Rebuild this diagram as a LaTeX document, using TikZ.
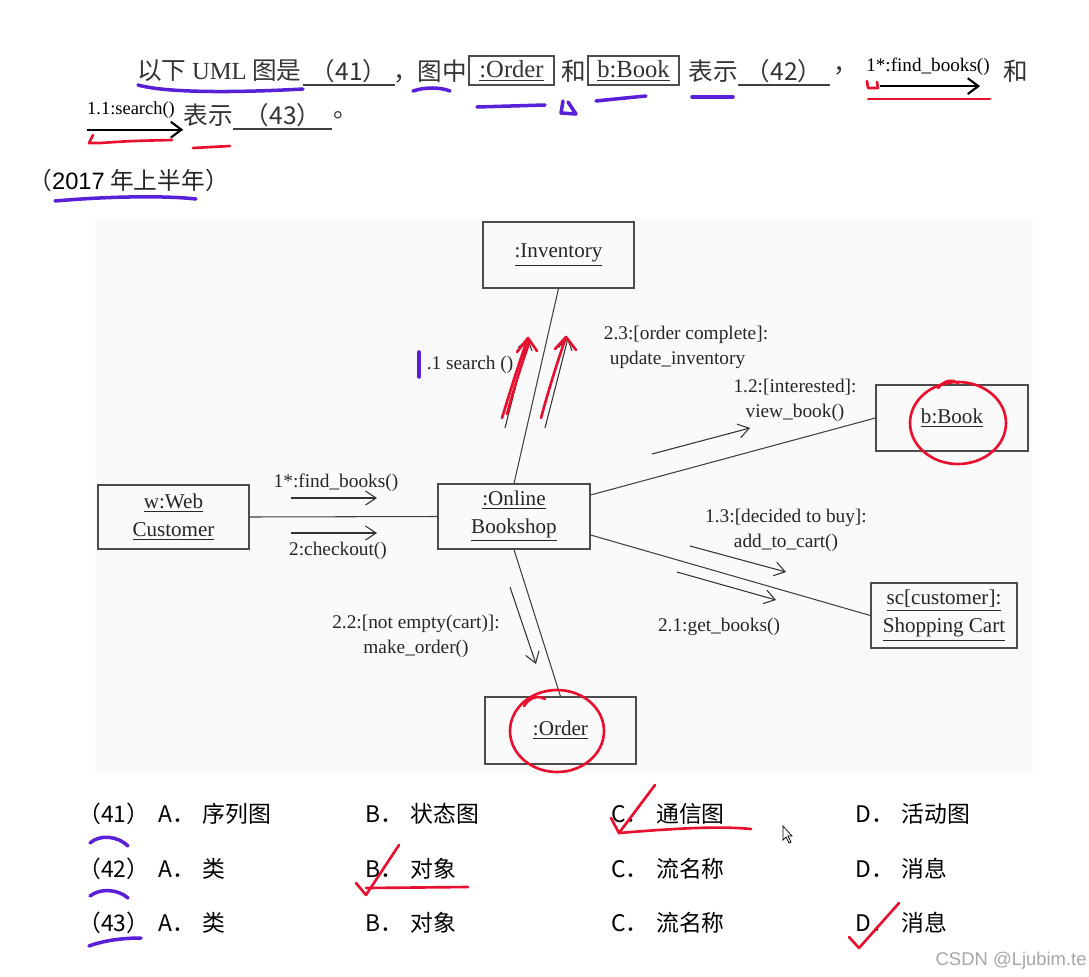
\documentclass[tikz,border=0pt]{standalone}
\usepackage{fontspec}
\setmainfont{Liberation Serif}
\setsansfont{Liberation Sans}
\newfontfamily\cjk{Noto Sans CJK SC}
\usetikzlibrary{arrows.meta}
\definecolor{penpurple}{HTML}{5A20D8}
\definecolor{penred}{HTML}{E8102E}
\tikzset{
  obj/.style={draw=black!70,line width=0.7pt,align=center,inner sep=0pt,text=black!85,font=\fontsize{12}{16}\selectfont},
  msg/.style={align=center,inner sep=0pt,text=black!85,font=\fontsize{11}{14.2}\selectfont},
  link/.style={black!75,line width=0.6pt},
  note/.style={->,>={Straight Barb[length=6pt,width=8pt]},black!80,line width=0.6pt},
  zh/.style={inner sep=0pt,text=black!80,font=\cjk\fontsize{14}{16}\selectfont},
  opt/.style={inner sep=0pt,anchor=west,font=\cjk\fontsize{13}{16}\selectfont},
  pp/.style={penpurple,line width=2pt,line cap=round,line join=round},
  rp/.style={penred,line width=1.5pt,line cap=round,line join=round}
}
\begin{document}
\begin{tikzpicture}[x=0.02cm,y=-0.02cm]
            \useasboundingbox[fill=white] (0,0) rectangle (1089,977);
            \fill[black!2] (95,218) rectangle (1033,773); %图的底色
            % 题干
            \node[zh,anchor=west] (q1) at (137,71) {以下 {\rmfamily UML} 图是};
            \node[zh] (b41) at (349,71) {（41）};
            \draw[black!75,line width=0.8pt] (303,85)--(395,85);
            \node[zh,anchor=west] (q2) at (393,71) {，图中};
            \node[zh,draw=black!70,line width=0.8pt,minimum width=1.7cm,minimum height=0.58cm,font=\fontsize{14}{16}\selectfont] (qord) at (511.5,70.5) {\underline{:Order}};
            \node[zh] (q3) at (574,71) {和};
            \node[zh,draw=black!70,line width=0.8pt,minimum width=1.82cm,minimum height=0.58cm,font=\fontsize{14}{16}\selectfont] (qbook) at (633.5,70.5) {\underline{b:Book}};
            \node[zh] (q4) at (713,71) {表示};
            \node[zh] (b42) at (784,71) {（42）};
            \draw[black!75,line width=0.8pt] (738,85)--(830,85);
            \node[zh,anchor=west] (q5) at (833,71) {，};
            \node[msg,text=black,font=\fontsize{10.9}{12}\selectfont] (qfind) at (928,67) {1*:find\_books()};
            \draw[->,>={Straight Barb[length=6pt,width=9pt]},line width=1.2pt] ([xshift=0.28cm,yshift=-0.2cm]qfind.south west)--([xshift=-0.2cm,yshift=-0.2cm]qfind.south east);
            \node[zh] (q6) at (1016,71) {和};
            \node[msg,text=black,font=\fontsize{10.5}{12}\selectfont] (qsearch) at (131,110) {1.1:search()};
            \draw[->,>={Straight Barb[length=6pt,width=9pt]},line width=1.2pt] ([yshift=-0.22cm]qsearch.south west)--([xshift=0.16cm,yshift=-0.22cm]qsearch.south east);
            \node[zh] (q7) at (208,115) {表示};
            \node[zh] (b43) at (283,115) {（43）};
            \draw[black!75,line width=0.8pt] (233,129)--(332,129);
            \node[zh,anchor=west] (q8) at (333,115) {。};
            \node[zh,anchor=west,text=black!85,font=\cjk\fontsize{13.5}{16}\selectfont] (year) at (28,180) {（{\sffamily\color{black}2017} 年上半年）};
            % 通信图
            \node[obj,minimum width=3.02cm,minimum height=1.32cm] (inv) at (558.5,255) {\underline{:Inventory}};
            \node[obj,minimum width=3.04cm,minimum height=1.32cm] (book) at (952,418) {\underline{b:Book}};
            \node[obj,minimum width=3.02cm,minimum height=1.28cm] (web) at (173.5,517) {\underline{w:Web}\\\underline{Customer}};
            \node[obj,minimum width=3.04cm,minimum height=1.3cm] (shop) at (514,516.5) {\underline{:Online}\\\underline{Bookshop}};
            \node[obj,minimum width=2.92cm,minimum height=1.3cm] (cart) at (944,615.5) {\underline{sc[customer]:}\\\underline{Shopping Cart}};
            \node[obj,minimum width=3.02cm,minimum height=1.34cm] (ord) at (560.5,730.5) {\underline{:Order}};
            \draw[link] (web.east)--(shop.west);
            \draw[link] (shop.north)--(inv.south);
            \draw[link] ([yshift=0.43cm]shop.east)--(book.west);
            \draw[link] ([yshift=-0.37cm]shop.east)--(cart.west);
            \draw[link] (shop.south)--(ord.north);
            % 消息
            \node[msg] (lfind) at (336,483) {1*:find\_books()};
            \node[msg] (lcheck) at (338,551) {2:checkout()};
            \node[msg] (lsearch) at (470,365) {.1 search ()};
            \node[msg,align=left] (lupd) at (686,347) {2.3:[order complete]:\\\hspace{0.12cm}update\_inventory};
            \node[msg] (lview) at (795,400) {1.2:[interested]:\\view\_book()};
            \node[msg] (ladd) at (786,530) {1.3:[decided to buy]:\\add\_to\_cart()};
            \node[msg] (lget) at (719,627) {2.1:get\_books()};
            \node[msg] (lmake) at (416,636) {2.2:[not empty(cart)]:\\make\_order()};
            \coordinate (fa) at (291,498); \coordinate (fb) at (377,498); \draw[note] (fa)--(fb); %1*
            \coordinate (ca) at (291,533); \coordinate (cb) at (377,533); \draw[note] (ca)--(cb); %2
            \coordinate (sa) at (505,428); \coordinate (sb) at (528,338); \draw[note] (sa)--(sb); %1.1
            \coordinate (ua) at (545,428); \coordinate (ub) at (568,338); \draw[note] (ua)--(ub); %2.3
            \coordinate (va) at (652,454); \coordinate (vb) at (750,428); \draw[note] (va)--(vb); %1.2
            \coordinate (aa) at (690,546); \coordinate (ab) at (786,572); \draw[note] (aa)--(ab); %1.3
            \coordinate (ga) at (677,572); \coordinate (gb) at (776,600); \draw[note] (ga)--(gb); %2.1
            \coordinate (ma) at (510,587); \coordinate (mb) at (536,664); \draw[note] (ma)--(mb); %2.2
            % 选项
            \foreach \y/\n/\a/\b/\c/\d in {814/41/序列图/状态图/通信图/活动图,869/42/类/对象/流名称/消息,923/43/类/对象/流名称/消息}{
              \node[opt] at (78,\y) {（\n）};
              \node[opt] at (158,\y) {A．\hspace{0.15cm}\a};
              \node[opt] at (365,\y) {B．\hspace{0.15cm}\b};
              \node[opt] at (611,\y) {C．\hspace{0.15cm}\c};
              \node[opt] at (855,\y) {D．\hspace{0.15cm}\d};
            }
            \node[anchor=east,inner sep=0pt,text=black!35,font=\sffamily\fontsize{10.5}{12}\selectfont] (mark) at (1087,961) {CSDN @Ljubim.te};
            \draw[black,fill=white,line width=0.4pt] (783,826)--(783,840)--(786,837)--(789,843)--(791,842)--(788,836)--(792,836)--cycle; %鼠标
            % 紫色笔迹
            \draw[pp] (138,85) .. controls (170,94) and (250,92) .. (303,89);
            \draw[pp] (413,91) .. controls (425,87) and (440,87) .. (450,91);
            \draw[pp] (477,107)--(545,105);
            \draw[pp] (563,101)--(561,113)--(576,114)--(568,102);
            \draw[pp] (596,101) .. controls (615,99) .. (646,96);
            \draw[pp] (692,97)--(733,97);
            \draw[pp] (55,201) .. controls (100,197) and (160,195) .. (196,199);
            \draw[pp] (419,352)--(419,377);
            \draw[pp] (90,843) .. controls (100,834) and (118,836) .. (128,846);
            \draw[pp] (90,896) .. controls (100,888) and (118,889) .. (128,898);
            \draw[pp] (89,946) .. controls (105,940) and (125,938) .. (141,938);
            % 红色笔迹
            \draw[rp] (868,99)--(990,99);
            \draw[rp] (867,81)--(868,88)--(878,88)--(877,82);
            \draw[rp] (93,135)--(89,143)--(100,143) .. controls (130,141) .. (172,140);
            \draw[rp] (193,148)--(230,146);
            \draw[rp] (958,423) ellipse (48 and 41);
            \draw[rp] (938,388) .. controls (945,380) and (952,379) .. (958,383);
            \draw[rp] (557,731) ellipse (47 and 41);
            \draw[rp] (524,706) .. controls (530,697) and (538,695) .. (545,699);
            \draw[rp] (502,418) .. controls (512,385) and (520,360) .. (528,338);
            \draw[rp] (507,414) .. controls (515,385) and (522,362) .. (530,341);
            \draw[rp] (517,352)--(528,338)--(537,351);
            \draw[rp] (541,418) .. controls (550,385) and (558,360) .. (566,337);
            \draw[rp] (555,349)--(566,337)--(576,350);
            \draw[rp] (611,818)--(619,833)--(655,785);
            \draw[rp] (619,833) .. controls (680,828) and (720,826) .. (751,829);
            \draw[rp] (356,883)--(366,895)--(399,845);
            \draw[rp] (366,888)--(468,887);
            \draw[rp] (849,937)--(859,948)--(899,903);
        \end{tikzpicture}
\end{document}
